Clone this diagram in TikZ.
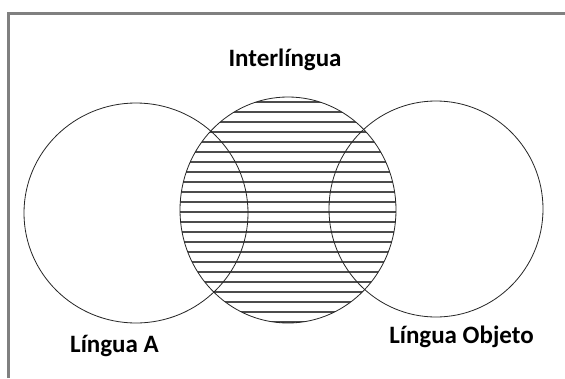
\documentclass[tikz,border=0pt]{standalone}
\usepackage{fontspec}
\setmainfont{Carlito}
\begin{document}
\begin{tikzpicture}[x=1pt,y=-1pt,
  frameline/.style={draw=black!50,line width=2.2pt},
  ring/.style={draw=black!85,line width=0.8pt},
  hatch/.style={draw=black!70,line width=1.2pt},
  lbl/.style={anchor=base,font=\fontsize{25}{30}\selectfont\bfseries,text=black,inner sep=0pt}]
\useasboundingbox (0,0) rectangle (565,378);
\fill[white] (0,0) rectangle (565,378);
% frame
\coordinate (fbl) at (8.5,378);
\coordinate (ftl) at (8.5,13.5);
\coordinate (ftr) at (565,13.5);
\draw[frameline] (fbl) -- (ftl) -- (ftr);
% hatching in middle circle
\begin{scope}
  \clip (288,210) ellipse [x radius=108pt, y radius=113pt];
  \foreach \yy in {102,112,...,322} \draw[hatch] (170,\yy) -- (410,\yy);
\end{scope}
% circles
\draw[ring] (136,213) ellipse [x radius=112pt, y radius=110pt];
\draw[ring] (288,210) ellipse [x radius=108pt, y radius=113pt];
\draw[ring] (436,209) ellipse [x radius=107pt, y radius=108pt];
% labels
\node[lbl] (inter) at (285,66.5) {Interlíngua};
\node[lbl] (linga) at (114.5,352.5) {Língua A};
\node[lbl] (lingo) at (461.5,343) {Língua Objeto};
\end{tikzpicture}
\end{document}
